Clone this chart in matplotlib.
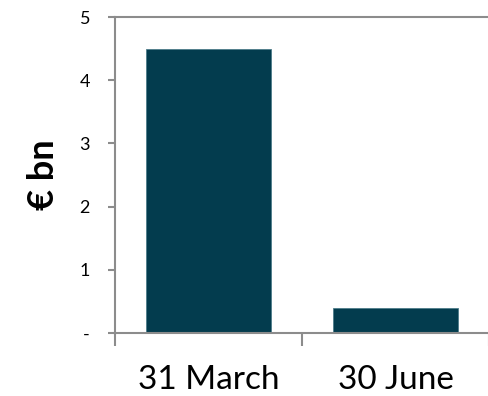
import matplotlib.pyplot as plt

plt.rcParams['font.family'] = ['Lato', 'DejaVu Sans']

dates = ['31 March', '30 June']
amounts = [4.5, 0.4]
y_ticks = [0, 1, 2, 3, 4, 5]
y_labels = ['-', '1', '2', '3', '4', '5']

grey = '#8c8c8c'
bar_col = '#033c4e'

fig = plt.figure(figsize=(4.89, 3.96), dpi=100)
ax = fig.add_axes([115 / 489, 63 / 396, 374 / 489, 316 / 396])

ax.bar(range(len(dates)), amounts, width=0.665, color=bar_col,
       edgecolor='#4d7c8a', linewidth=0.6, zorder=2)

ax.set_xlim(-0.5, 1.468)
ax.set_ylim(0, 5)

# labels sit in the middle, tick marks on the category boundaries
ax.set_xticks(range(len(dates)))
ax.set_xticklabels(dates, fontsize=24)
ax.tick_params(axis='x', which='major', length=0, pad=23)
ax.set_xticks([-0.5, 0.5, 1.5], minor=True)
ax.tick_params(axis='x', which='minor', length=9, width=1.5, color=grey)

ax.set_yticks(y_ticks)
ax.set_yticklabels(y_labels, fontsize=13)
ax.tick_params(axis='y', length=5, width=1.5, color=grey, pad=13)

for s in ['left', 'bottom', 'top']:
    ax.spines[s].set_color(grey)
    ax.spines[s].set_linewidth(1.5)
ax.spines['right'].set_visible(False)

ax.set_ylabel('€ bn', fontsize=26, fontweight='bold', labelpad=14)

fig.savefig('out.png', dpi=100)
